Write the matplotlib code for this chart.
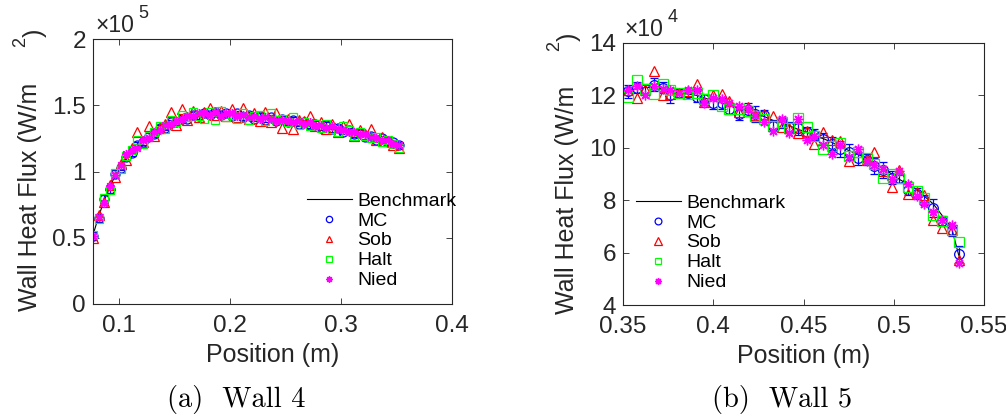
import numpy as np
import matplotlib
matplotlib.use("Agg")
import matplotlib.pyplot as plt

# Wall 4 data, heat flux in units of 1e5 W/m^2
x4 = [0.077, 0.082, 0.087, 0.092, 0.097, 0.102, 0.107, 0.112, 0.117, 0.122,
      0.127, 0.132, 0.137, 0.142, 0.147, 0.152, 0.157, 0.162, 0.167, 0.172,
      0.177, 0.182, 0.187, 0.192, 0.197, 0.202, 0.207, 0.212, 0.217, 0.222,
      0.227, 0.232, 0.237, 0.242, 0.247, 0.252, 0.257, 0.262, 0.267, 0.272,
      0.277, 0.282, 0.287, 0.292, 0.297, 0.302, 0.307, 0.312, 0.317, 0.322,
      0.327, 0.332, 0.337, 0.342, 0.347, 0.352]
bench4 = [0.52, 0.66, 0.78, 0.88, 0.97, 1.04, 1.10, 1.15, 1.19, 1.23,
          1.26, 1.29, 1.32, 1.34, 1.36, 1.38, 1.39, 1.41, 1.42, 1.43,
          1.43, 1.44, 1.44, 1.44, 1.43, 1.43, 1.43, 1.42, 1.42, 1.41,
          1.41, 1.40, 1.40, 1.39, 1.39, 1.38, 1.38, 1.37, 1.36, 1.36,
          1.35, 1.34, 1.33, 1.33, 1.32, 1.31, 1.30, 1.29, 1.28, 1.27,
          1.26, 1.25, 1.24, 1.23, 1.21, 1.19]
mc4 = [0.51, 0.65, 0.79, 0.87, 0.98, 1.03, 1.11, 1.14, 1.20, 1.22,
       1.27, 1.28, 1.33, 1.33, 1.37, 1.37, 1.40, 1.40, 1.43, 1.42,
       1.44, 1.43, 1.45, 1.43, 1.44, 1.42, 1.44, 1.41, 1.43, 1.40,
       1.42, 1.39, 1.41, 1.38, 1.40, 1.37, 1.39, 1.36, 1.37, 1.35,
       1.36, 1.33, 1.35, 1.32, 1.33, 1.30, 1.31, 1.28, 1.29, 1.26,
       1.27, 1.24, 1.25, 1.22, 1.22, 1.20]
mc4_err = [0.03, 0.03, 0.03, 0.03, 0.03, 0.02, 0.02, 0.02, 0.02, 0.02,
           0.02, 0.02, 0.02, 0.02, 0.02, 0.02, 0.02, 0.02, 0.02, 0.02,
           0.02, 0.02, 0.02, 0.02, 0.02, 0.02, 0.02, 0.02, 0.02, 0.02,
           0.02, 0.02, 0.02, 0.02, 0.02, 0.02, 0.02, 0.02, 0.02, 0.02,
           0.02, 0.02, 0.02, 0.02, 0.02, 0.02, 0.02, 0.02, 0.02, 0.02,
           0.02, 0.02, 0.02, 0.02, 0.02, 0.02]
sob4 = [0.50, 0.67, 0.77, 0.90, 0.96, 1.06, 1.09, 1.18, 1.30, 1.22,
        1.34, 1.27, 1.33, 1.36, 1.45, 1.35, 1.47, 1.39, 1.46, 1.41,
        1.45, 1.48, 1.43, 1.46, 1.42, 1.47, 1.41, 1.48, 1.40, 1.44,
        1.38, 1.45, 1.37, 1.44, 1.33, 1.40, 1.32, 1.39, 1.38, 1.42,
        1.34, 1.37, 1.32, 1.36, 1.30, 1.34, 1.36, 1.27, 1.31, 1.28,
        1.32, 1.24, 1.26, 1.23, 1.20, 1.18]
halt4 = [0.52, 0.64, 0.80, 0.86, 0.99, 1.02, 1.12, 1.16, 1.24, 1.21,
         1.27, 1.30, 1.34, 1.32, 1.39, 1.37, 1.43, 1.41, 1.45, 1.42,
         1.40, 1.45, 1.39, 1.46, 1.41, 1.43, 1.40, 1.44, 1.39, 1.42,
         1.43, 1.38, 1.44, 1.39, 1.40, 1.37, 1.41, 1.35, 1.37, 1.34,
         1.36, 1.33, 1.36, 1.32, 1.30, 1.34, 1.31, 1.27, 1.30, 1.27,
         1.25, 1.26, 1.22, 1.24, 1.21, 1.18]
nied4 = [0.51, 0.66, 0.76, 0.89, 0.97, 1.05, 1.13, 1.16, 1.18, 1.24,
         1.25, 1.30, 1.31, 1.35, 1.36, 1.38, 1.40, 1.42, 1.42, 1.44,
         1.44, 1.43, 1.45, 1.42, 1.44, 1.44, 1.42, 1.43, 1.41, 1.42,
         1.40, 1.41, 1.40, 1.38, 1.39, 1.38, 1.37, 1.38, 1.36, 1.37,
         1.34, 1.35, 1.33, 1.34, 1.32, 1.31, 1.30, 1.30, 1.28, 1.28,
         1.26, 1.25, 1.24, 1.24, 1.21, 1.20]

# Wall 5 data, heat flux in units of 1e4 W/m^2
x5 = [0.353, 0.358, 0.362, 0.367, 0.372, 0.376, 0.381, 0.386, 0.391, 0.395,
      0.400, 0.405, 0.409, 0.414, 0.419, 0.423, 0.428, 0.433, 0.438, 0.442,
      0.447, 0.452, 0.456, 0.461, 0.466, 0.470, 0.475, 0.480, 0.485, 0.489,
      0.494, 0.499, 0.503, 0.508, 0.513, 0.517, 0.522, 0.527, 0.532, 0.536]
bench5 = [12.2, 12.25, 12.3, 12.3, 12.25, 12.15, 12.1, 12.05, 12.0, 11.9,
          11.8, 11.7, 11.6, 11.5, 11.4, 11.3, 11.2, 11.05, 10.95, 10.85,
          10.7, 10.6, 10.45, 10.35, 10.2, 10.05, 9.9, 9.75, 9.6, 9.4,
          9.2, 9.0, 8.8, 8.6, 8.4, 8.15, 7.85, 7.4, 6.95, 5.9]
mc5 = [12.15, 12.3, 12.25, 12.4, 12.3, 12.0, 12.1, 12.1, 11.95, 11.85,
       11.7, 11.7, 11.5, 11.3, 11.45, 11.3, 11.25, 10.85, 10.95, 10.8,
       10.75, 10.6, 10.5, 10.35, 10.15, 9.95, 9.85, 9.6, 9.55, 9.3,
       9.15, 8.85, 8.85, 8.4, 8.25, 8.0, 7.7, 7.2, 6.85, 5.95]
mc5_err = [0.25, 0.2, 0.2, 0.25, 0.2, 0.3, 0.15, 0.15, 0.2, 0.2,
           0.2, 0.2, 0.2, 0.25, 0.25, 0.3, 0.2, 0.2, 0.2, 0.2,
           0.25, 0.2, 0.2, 0.2, 0.25, 0.3, 0.3, 0.25, 0.2, 0.3,
           0.3, 0.25, 0.2, 0.2, 0.2, 0.2, 0.35, 0.2, 0.2, 0.3]
sob5 = [12.2, 11.9, 12.25, 12.95, 12.0, 12.05, 12.1, 12.15, 12.45, 11.75,
        12.0, 12.05, 11.8, 11.35, 11.55, 11.25, 11.3, 11.2, 10.8, 10.75,
        10.55, 10.65, 10.15, 10.6, 10.3, 10.25, 9.5, 9.85, 9.55, 9.85,
        9.1, 8.5, 9.15, 8.25, 8.3, 8.2, 7.25, 6.95, 6.85, 5.7]
halt5 = [11.95, 12.6, 12.25, 12.05, 12.45, 12.2, 12.1, 12.05, 12.1, 11.85,
         12.0, 11.6, 11.5, 11.5, 11.4, 11.2, 11.1, 10.85, 11.0, 10.75,
         11.15, 10.8, 10.45, 9.95, 10.05, 10.2, 9.7, 9.85, 9.6, 9.4,
         8.85, 9.0, 8.85, 8.5, 8.35, 8.1, 7.45, 7.2, 6.85, 6.4]
nied5 = [12.2, 12.35, 12.0, 12.35, 12.25, 12.2, 12.1, 12.2, 12.2, 11.7,
         11.9, 11.85, 11.7, 11.6, 11.5, 11.25, 11.0, 10.65, 11.1, 10.55,
         11.1, 10.3, 10.45, 10.1, 9.75, 10.1, 9.65, 9.95, 9.5, 9.35,
         9.2, 8.8, 9.1, 8.6, 8.15, 7.85, 7.55, 7.25, 7.05, 5.6]

labels = ["Benchmark", "MC", "Sob", "Halt", "Nied"]

plt.rcParams["font.family"] = ["Liberation Sans", "DejaVu Sans"]
plt.rcParams["xtick.direction"] = "in"
plt.rcParams["ytick.direction"] = "in"

gray = (0.15, 0.15, 0.15)
asterisk = (8, 2, 0)


def draw_wall(ax, x, bench, mc, mc_err, sob, halt, nied, ms):
    l0, = ax.plot(x, bench, color="k", lw=0.8)
    ax.errorbar(x, mc, yerr=mc_err, fmt="none", ecolor="b", elinewidth=0.9, capsize=3, capthick=0.9)
    l1, = ax.plot(x, mc, "o", mfc="none", mec="b", ms=ms, mew=0.9)
    l2, = ax.plot(x, sob, "^", mfc="none", mec="r", ms=ms + 0.5, mew=0.9)
    l3, = ax.plot(x, halt, "s", mfc="none", mec=(0, 1, 0), ms=ms - 0.5, mew=0.9)
    l4, = ax.plot(x, nied, marker=asterisk, ls="none", mec=(1, 0, 1), ms=ms, mew=1.0)
    for s in ax.spines.values():
        s.set_color(gray)
        s.set_linewidth(0.8)
    ax.tick_params(colors=gray, labelsize=17.5, length=4, width=0.6, top=True, right=True, pad=5)
    ax.tick_params(axis="x", pad=8)
    ax.set_xlabel("Position (m)", fontsize=18, color=gray, labelpad=4)
    return [l0, l1, l2, l3, l4]


fig = plt.figure(figsize=(10.06, 4.17), dpi=100)
ax1 = fig.add_axes([93 / 1006, 1 - 304 / 417, 359 / 1006, 265 / 417])
ax2 = fig.add_axes([623 / 1006, 1 - 305 / 417, 361 / 1006, 262 / 417])

h1 = draw_wall(ax1, x4, bench4, mc4, mc4_err, sob4, halt4, nied4, 6.5)
ax1.set_xlim(0.077, 0.4)
ax1.set_ylim(0, 2)
ax1.set_xticks([0.1, 0.2, 0.3, 0.4])
ax1.set_xticklabels(["0.1", "0.2", "0.3", "0.4"])
ax1.set_yticks([0, 0.5, 1, 1.5, 2])
ax1.set_yticklabels(["0", "0.5", "1", "1.5", "2"])

h2 = draw_wall(ax2, x5, bench5, mc5, mc5_err, sob5, halt5, nied5, 7)
ax2.set_xlim(0.35, 0.55)
ax2.set_ylim(4, 14)
ax2.set_xticks([0.35, 0.4, 0.45, 0.5, 0.55])
ax2.set_xticklabels(["0.35", "0.4", "0.45", "0.5", "0.55"])
ax2.set_yticks([4, 6, 8, 10, 12, 14])

for ax, h, anchor in [(ax1, h1, (307 / 1006, 1 - 192 / 417)), (ax2, h2, (636 / 1006, 1 - 194 / 417))]:
    leg = ax.legend(h, labels, loc="upper left", bbox_to_anchor=anchor, bbox_transform=fig.transFigure,
                    frameon=False, fontsize=14, handlelength=2.3, handletextpad=0.3,
                    labelspacing=0.12, borderpad=0, borderaxespad=0, markerscale=0.7)
    for t in leg.get_texts():
        t.set_color("k")

# y labels with the misplaced "2)" as in the original rendering
fig.text(30 / 1006, 1 - 197 / 417, "Wall Heat Flux (W/m", rotation=90, fontsize=18,
         color=gray, ha="center", va="center")
fig.text(21 / 1006, 1 - 42 / 417, "2", rotation=90, fontsize=13, color=gray, ha="center", va="center")
fig.text(35 / 1006, 1 - 33 / 417, ")", rotation=90, fontsize=18, color=gray, ha="center", va="center")
fig.text(567 / 1006, 1 - 200 / 417, "Wall Heat Flux (W/m", rotation=90, fontsize=18,
         color=gray, ha="center", va="center")
fig.text(555 / 1006, 1 - 46 / 417, "2", rotation=90, fontsize=13, color=gray, ha="center", va="center")
fig.text(569 / 1006, 1 - 37 / 417, ")", rotation=90, fontsize=18, color=gray, ha="center", va="center")

# exponent labels
fig.text(95 / 1006, 1 - 26 / 417, "\u00d710", fontsize=16.5, color=gray, ha="left", va="center")
fig.text(138 / 1006, 1 - 14 / 417, "5", fontsize=13, color=gray, ha="left", va="center")
fig.text(624 / 1006, 1 - 30 / 417, "\u00d710", fontsize=16.5, color=gray, ha="left", va="center")
fig.text(668 / 1006, 1 - 18 / 417, "4", fontsize=13, color=gray, ha="left", va="center")

# captions
fig.text(236 / 1006, 1 - 400 / 417, "(a)  Wall 4", fontsize=20.5, family=["cmr10", "DejaVu Serif"],
         ha="center", va="center")
fig.text(782 / 1006, 1 - 400 / 417, "(b)  Wall 5", fontsize=20.5, family=["cmr10", "DejaVu Serif"],
         ha="center", va="center")

fig.savefig("out.png", dpi=100)
